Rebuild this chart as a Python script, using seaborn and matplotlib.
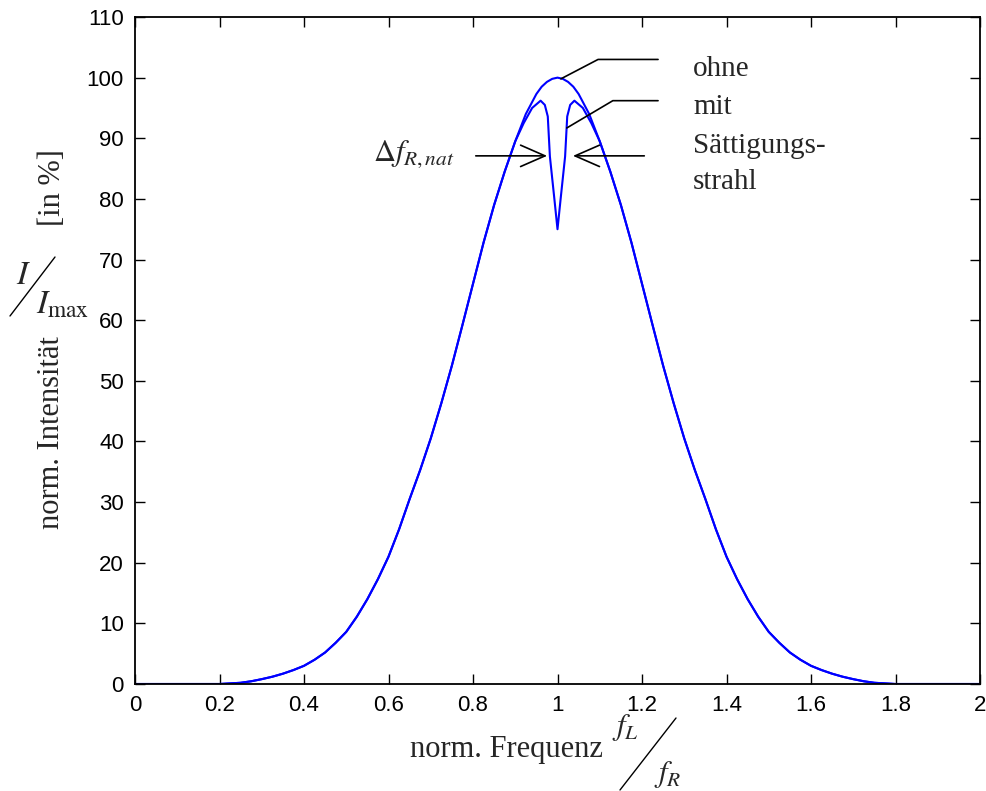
import numpy as np
import pandas as pd
import matplotlib
matplotlib.use('Agg')
import matplotlib.pyplot as plt
from matplotlib.lines import Line2D
from matplotlib.ticker import FuncFormatter
import seaborn as sns

# Werte (norm. Frequenz -> norm. Intensitaet in %)
freq = [0.0, 0.2, 0.25, 0.275, 0.3, 0.325, 0.35, 0.375, 0.4, 0.425,
        0.45, 0.475, 0.5, 0.525, 0.55, 0.575, 0.6, 0.625, 0.65, 0.675,
        0.7, 0.725, 0.75, 0.775, 0.8, 0.825, 0.85, 0.875, 0.9, 0.925,
        0.95, 0.9625, 0.975, 0.9875, 1.0, 1.0125, 1.025, 1.0375, 1.05,
        1.075, 1.1, 1.125, 1.15, 1.175, 1.2, 1.225, 1.25, 1.275, 1.3,
        1.325, 1.35, 1.375, 1.4, 1.425, 1.45, 1.475, 1.5, 1.525, 1.55,
        1.575, 1.6, 1.625, 1.65, 1.675, 1.7, 1.725, 1.75, 1.8, 2.0]
int_ohne = [0, 0, 0.2, 0.45, 0.8, 1.2, 1.7, 2.3, 3.0, 4.0,
            5.2, 6.8, 8.6, 11.1, 14.0, 17.3, 21.0, 25.5, 30.5, 35.3,
            40.5, 46.3, 52.5, 59.2, 66.0, 72.8, 79.0, 84.5, 89.5, 94.0,
            97.3, 98.5, 99.3, 99.8, 100.0, 99.8, 99.3, 98.5, 97.3,
            94.0, 89.5, 84.5, 79.0, 72.8, 66.0, 59.2, 52.5, 46.3, 40.5,
            35.3, 30.5, 25.5, 21.0, 17.3, 14.0, 11.1, 8.6, 6.8, 5.2,
            4.0, 3.0, 2.3, 1.7, 1.2, 0.8, 0.45, 0.2, 0, 0]

# Lamb-Dip (mit Saettigungsstrahl), nur der Bereich um f_R
freq_dip = [0.92, 0.94, 0.96, 0.97, 0.977, 0.982, 0.992, 1.0,
            1.008, 1.018, 1.023, 1.03, 1.04, 1.06, 1.08]
int_dip = [92.5, 95.0, 96.2, 95.5, 93.6, 87.0, 80.4, 75.0,
           80.4, 87.0, 93.6, 95.5, 96.2, 95.0, 92.5]

xticks = [0, 0.2, 0.4, 0.6, 0.8, 1, 1.2, 1.4, 1.6, 1.8, 2]
yticks = list(range(0, 111, 10))

# Tabelle bauen
df_ohne = pd.DataFrame({'f': freq, 'I': int_ohne, 'kurve': 'ohne'})
aussen = df_ohne[(df_ohne['f'] <= 0.9) | (df_ohne['f'] >= 1.1)]
df_mit = pd.concat([aussen[['f', 'I']], pd.DataFrame({'f': freq_dip, 'I': int_dip})])
df_mit = df_mit.sort_values('f')
df_mit['kurve'] = 'mit'
df = pd.concat([df_ohne, df_mit], ignore_index=True)

sns.set_style('ticks')
plt.rcParams['font.family'] = ['Liberation Sans', 'DejaVu Sans']
plt.rcParams['mathtext.fontset'] = 'stix'

W, H = 986, 791
fig = plt.figure(figsize=(W / 100, H / 100), dpi=100)
ax = fig.add_axes([135 / W, 1 - 684 / H, 845 / W, 667 / H])

sns.lineplot(data=df, x='f', y='I', hue='kurve', units='kurve', estimator=None,
             palette={'ohne': '#0000ff', 'mit': '#0000ff'}, legend=False,
             linewidth=1.5, ax=ax)

ax.set_xlim(0, 2)
ax.set_ylim(0, 110)
ax.set_xticks(xticks)
ax.set_yticks(yticks)
ax.xaxis.set_major_formatter(FuncFormatter(lambda v, p: '%g' % v))
ax.yaxis.set_major_formatter(FuncFormatter(lambda v, p: '%g' % v))
ax.tick_params(direction='in', length=7, width=1, top=True, right=True,
               labelsize=16, pad=8, colors='black')
for sp in ax.spines.values():
    sp.set_linewidth(1.3)
    sp.set_color('black')
ax.set_xlabel('')
ax.set_ylabel('')

serif = ['Liberation Serif', 'DejaVu Serif']

# Beschriftung der Kurven
ax.plot([1.008, 1.096, 1.238], [99.8, 103, 103], color='black', lw=1.2)
ax.plot([1.022, 1.131, 1.238], [91.7, 96.2, 96.2], color='black', lw=1.2)
for txt, yb in [('ohne', 100.2), ('mit', 94.0), ('Sättigungs-', 87.6), ('strahl', 81.6)]:
    ax.text(1.321, yb, txt, family=serif, fontsize=21, va='baseline', ha='left')

ax.annotate('', xy=(0.982, 87.1), xytext=(0.8, 87.1),
            arrowprops=dict(arrowstyle='->,head_length=0.8,head_width=0.35',
                            color='black', lw=1.2, mutation_scale=22))
ax.annotate('', xy=(1.030, 87.1), xytext=(1.212, 87.1),
            arrowprops=dict(arrowstyle='->,head_length=0.8,head_width=0.35',
                            color='black', lw=1.2, mutation_scale=22))
ax.text(0.757, 86.3, r'$\Delta f_{R,nat}$', fontsize=22, ha='right', va='baseline')


def ftxt(px, py, s, **kw):
    fig.text(px / W, 1 - py / H, s, **kw)


def fline(x0, y0, x1, y1):
    fig.add_artist(Line2D([x0 / W, x1 / W], [1 - y0 / H, 1 - y1 / H],
                          transform=fig.transFigure, color='black', lw=1.0))


# y-Achse: norm. Intensitaet I/I_max [in %]
ftxt(52, 433, 'norm. Intensität', family=serif, fontsize=22, rotation=90,
     ha='center', va='center')
ftxt(52, 188, '[in %]', family=serif, fontsize=22, rotation=90,
     ha='center', va='center')
ftxt(16, 284, r'$I$', fontsize=24, ha='left', va='baseline')
fline(10, 316, 55, 257)
ftxt(36, 314, r'$I_{\mathrm{max}}$', fontsize=24, ha='left', va='baseline')

# x-Achse: norm. Frequenz f_L/f_R
ftxt(410, 757, 'norm. Frequenz', family=serif, fontsize=22, ha='left', va='baseline')
ftxt(612, 735, r'$f_L$', fontsize=22, ha='left', va='baseline')
fline(620, 790, 676, 718)
ftxt(654, 782, r'$f_R$', fontsize=22, ha='left', va='baseline')

plt.savefig('out.png', dpi=100)
